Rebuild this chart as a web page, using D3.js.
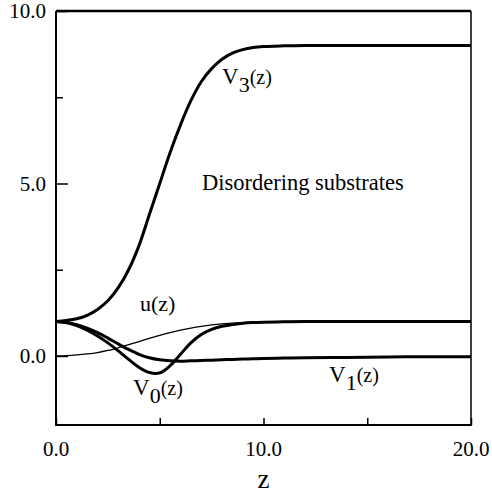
<!DOCTYPE html>
<html>
<head>
<meta charset="utf-8">
<script src="https://cdn.jsdelivr.net/npm/d3@7"></script>
<style>
  body { margin: 0; background: #fff; }
</style>
</head>
<body>
<div id="chart"></div>
<script>
// sample points
let zs  = [0, 0.5, 1, 1.5, 2, 2.5, 3, 3.5, 4, 4.5, 5, 5.5, 6, 6.5, 7, 7.5, 8, 8.5, 9, 9.5, 10, 11, 12, 14, 16, 18, 20];
let v3  = [1.0, 1.03, 1.08, 1.18, 1.35, 1.6, 1.98, 2.5, 3.2, 4.1, 5.0, 5.9, 6.7, 7.4, 7.95, 8.33, 8.6, 8.78, 8.88, 8.94, 8.97, 8.99, 9.0, 9.0, 9.0, 9.0, 9.0];
let u   = [0.0, 0.01, 0.03, 0.06, 0.1, 0.16, 0.24, 0.33, 0.42, 0.51, 0.6, 0.68, 0.75, 0.81, 0.86, 0.9, 0.93, 0.95, 0.97, 0.98, 0.99, 1.0, 1.0, 1.0, 1.0, 1.0, 1.0];
let v0  = [1.0, 0.97, 0.88, 0.75, 0.58, 0.38, 0.15, -0.1, -0.33, -0.48, -0.49, -0.28, 0.05, 0.38, 0.62, 0.77, 0.86, 0.91, 0.95, 0.97, 0.98, 0.99, 1.0, 1.0, 1.0, 1.0, 1.0];
let v1  = [1.0, 0.97, 0.91, 0.81, 0.68, 0.52, 0.35, 0.19, 0.05, -0.05, -0.11, -0.14, -0.15, -0.14, -0.13, -0.12, -0.11, -0.1, -0.09, -0.08, -0.07, -0.06, -0.05, -0.04, -0.03, -0.02, -0.02];

let xMajor = [0, 10, 20];
let xMinor = [5, 15];
let yMajor = [0, 5, 10];
let yMinor = [2.5, 7.5];

let width = 492, height = 495;
let mLeft = 56, mRight = 471, mTop = 11, mBottom = 425;
let serif = '"Liberation Serif", "Times New Roman", Times, "DejaVu Serif", serif';

let svg = d3.select('#chart')
    .append('svg')
    .attr('width', width)
    .attr('height', height)
    .style('font-family', serif);

let x = d3.scaleLinear().domain([0, 20]).range([mLeft, mRight]);
let y = d3.scaleLinear().domain([-2, 10]).range([mBottom, mTop]);

// frame
svg.append('line').attr('x1', mLeft).attr('x2', mRight).attr('y1', mTop).attr('y2', mTop)
    .attr('stroke', '#000').attr('stroke-width', 2.5);
svg.append('line').attr('x1', mRight).attr('x2', mRight).attr('y1', mTop).attr('y2', mBottom)
    .attr('stroke', '#000').attr('stroke-width', 1.5);

// axes with inward ticks
let yAxis = svg.append('g')
    .attr('transform', 'translate(' + mLeft + ',0)')
    .call(d3.axisRight(y).tickValues(yMajor).tickSize(12).tickFormat(''));
yAxis.select('.domain').remove();
yAxis.selectAll('line').attr('stroke-width', 1.5);
let yAxis2 = svg.append('g')
    .attr('transform', 'translate(' + mLeft + ',0)')
    .call(d3.axisRight(y).tickValues(yMinor).tickSize(7).tickFormat(''));
yAxis2.select('.domain').remove();
yAxis2.selectAll('line').attr('stroke-width', 1.5);

let xAxis = svg.append('g')
    .attr('transform', 'translate(0,' + mBottom + ')')
    .call(d3.axisTop(x).tickValues(xMajor.concat(xMinor)).tickSize(7).tickFormat(''));
xAxis.select('.domain').remove();
xAxis.selectAll('line').attr('stroke-width', 1.5);

svg.append('line').attr('x1', mLeft).attr('x2', mLeft).attr('y1', mTop).attr('y2', mBottom)
    .attr('stroke', '#000').attr('stroke-width', 2);
svg.append('line').attr('x1', mLeft - 1).attr('x2', mRight + 0.75).attr('y1', mBottom).attr('y2', mBottom)
    .attr('stroke', '#000').attr('stroke-width', 2);

function addText(px, py, size, str, anchor) {
    return svg.append('text')
        .attr('x', px)
        .attr('y', py)
        .attr('text-anchor', anchor || 'start')
        .style('font-family', serif)
        .style('font-size', size + 'px')
        .attr('fill', '#000')
        .text(str);
}

// tick labels
yMajor.forEach(function (d) {
    addText(mLeft - 10, y(d) + 7, 21, d3.format('.1f')(d), 'end');
});
xMajor.forEach(function (d) {
    addText(x(d), 456, 21, d3.format('.1f')(d), 'middle');
});
addText(x(10), 488, 27, 'z', 'middle');

// curves
let line = d3.line()
    .x(function (d) { return x(d[0]); })
    .y(function (d) { return y(d[1]); })
    .curve(d3.curveCatmullRom.alpha(0.5));

function drawCurve(vals, w) {
    svg.append('path')
        .attr('d', line(zs.map(function (z, i) { return [z, vals[i]]; })))
        .style('fill', 'none')
        .attr('stroke', '#000')
        .style('stroke-width', w);
}
drawCurve(u, 1.3);
drawCurve(v0, 3);
drawCurve(v1, 3);
drawCurve(v3, 3);

// labels
function subLabel(px, py, sub) {
    let t = addText(px, py, 23, '');
    t.append('tspan').text('V');
    t.append('tspan').attr('dy', 8).style('font-size', '22px').text(sub);
    t.append('tspan').attr('dy', -8).style('font-size', '20px').text('(z)');
}
subLabel(222, 84, '3');
subLabel(133, 395, '0');
subLabel(329, 382, '1');

addText(140, 311, 22, 'u(z)');
addText(202, 190, 22.5, 'Disordering substrates');
</script>
</body>
</html>
